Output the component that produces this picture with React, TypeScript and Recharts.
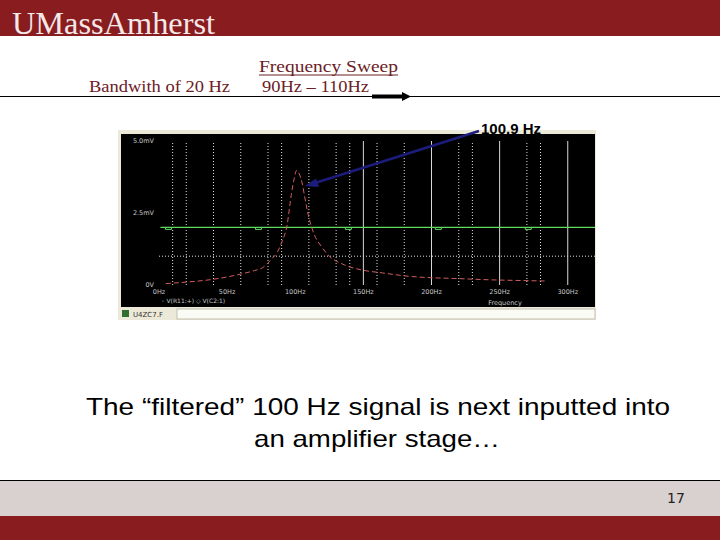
import React from 'react';
import { LineChart, Line, XAxis, YAxis, ReferenceLine } from 'recharts';

// frequency sweep (Hz, mV)
const sweepFreq = [5, 20, 40, 60, 70, 76, 83, 87, 90, 94, 97, 99, 101, 103, 105, 107, 109, 114, 119, 124, 136, 149, 164, 184, 201, 215, 243, 272, 283];
const sweepMv = [0.05, 0.1, 0.2, 0.38, 0.5, 0.6, 0.92, 1.15, 1.48, 2.08, 3.1, 3.65, 3.98, 3.85, 3.55, 3.05, 2.55, 1.75, 1.35, 1.05, 0.7, 0.52, 0.42, 0.3, 0.25, 0.23, 0.18, 0.15, 0.14];

// flat green reference trace and its marker positions
const refFreq = [1, 320];
const refMv = [2.0, 2.0];
const refMarkFreq = [7, 73, 139, 205, 271];

const xTicks = [0, 50, 100, 150, 200, 250, 300];
const xTickLabels = ['0Hz', '50Hz', '100Hz', '150Hz', '200Hz', '250Hz', '300Hz'];
const yTicks = [0, 2.5, 5];
const yTickLabels = ['0V', '2.5mV', '5.0mV'];

// grid lines visible in the screenshot
const dottedX = [10, 20, 40, 60, 80, 90, 110, 130, 140, 160, 180, 220, 230, 270, 280];
const solidX = [150, 200, 250, 300];
const dottedY = [1.0];

const sweepData = sweepFreq.map((f, i) => ({ f, v: sweepMv[i] }));
const refData = refFreq.map((f, i) => ({ f, v: refMv[i] }));
const refMarks = refMarkFreq.map((f) => ({ f, v: refMv[0] }));

const MAROON = '#891c1f';
const TEXT_MAROON = '#6b2025';
const GREEN = '#5edc5e';

const markDot = (props: any) => {
  const { cx, cy, index } = props;
  return (
    <path
      key={`m-${index}`}
      d={`M${cx - 3},${cy} L${cx - 3},${cy + 2} L${cx + 3},${cy + 2} L${cx + 3},${cy}`}
      stroke={GREEN}
      fill="none"
      strokeWidth={1}
    />
  );
};

const ScopePlot = () => (
  <LineChart width={474} height={173} margin={{ top: 7, right: 0, bottom: 0, left: 0 }}>
    <XAxis
      type="number"
      dataKey="f"
      domain={[0, 320]}
      ticks={xTicks}
      tickFormatter={(v) => xTickLabels[xTicks.indexOf(v)]}
      height={22}
      axisLine={false}
      tickLine={false}
      tickSize={0}
      tickMargin={4}
      allowDataOverflow
      tick={{ fontSize: 6.5, fill: '#c8c8c8', fontFamily: 'DejaVu Sans' }}
    />
    <YAxis
      type="number"
      domain={[0, 5]}
      ticks={yTicks}
      tickFormatter={(v) => yTickLabels[yTicks.indexOf(v)]}
      width={38}
      axisLine={false}
      tickLine={false}
      tickSize={0}
      tickMargin={5}
      allowDataOverflow
      tick={{ fontSize: 6.5, fill: '#c8c8c8', fontFamily: 'DejaVu Sans' }}
    />
    {dottedX.map((v) => (
      <ReferenceLine key={`dx-${v}`} x={v} stroke="#e0e0e0" strokeDasharray="1 2" />
    ))}
    {solidX.map((v) => (
      <ReferenceLine key={`sx-${v}`} x={v} stroke="#d8d8d8" />
    ))}
    {dottedY.map((v) => (
      <ReferenceLine key={`dy-${v}`} y={v} stroke="#e0e0e0" strokeDasharray="1 2" />
    ))}
    <Line
      data={refData}
      dataKey="v"
      stroke={GREEN}
      strokeWidth={1.2}
      dot={false}
      isAnimationActive={false}
    />
    <Line
      data={refMarks}
      dataKey="v"
      stroke="none"
      dot={markDot}
      isAnimationActive={false}
    />
    <Line
      data={sweepData}
      dataKey="v"
      type="monotone"
      stroke="#d45c5c"
      strokeWidth={1}
      strokeDasharray="5 3"
      dot={false}
      isAnimationActive={false}
    />
  </LineChart>
);

export default function App() {
  return (
    <div style={{ position: 'absolute', left: 0, top: 0, width: 720, height: 540, background: '#fff', overflow: 'hidden' }}>
      {/* scope window frame */}
      <div style={{ position: 'absolute', left: 118, top: 130, width: 478, height: 190, background: '#ece9d8' }} />
      <div style={{ position: 'absolute', left: 121, top: 134, width: 474, height: 173, background: '#000' }}>
        <ScopePlot />
      </div>

      <svg
        width={720}
        height={540}
        style={{ position: 'absolute', left: 0, top: 0, pointerEvents: 'none' }}
      >
        {/* header */}
        <rect x={0} y={0} width={720} height={36} fill={MAROON} />
        <text x={12} y={34} fontSize={32} fill="#f4e8e8" fontFamily="Liberation Serif" textLength={203} lengthAdjust="spacingAndGlyphs">
          UMassAmherst
        </text>

        <text x={259} y={72} fontSize={17} fill={TEXT_MAROON} fontFamily="Liberation Serif" textLength={139} lengthAdjust="spacingAndGlyphs">
          Frequency Sweep
        </text>
        <line x1={259} y1={75} x2={398} y2={75} stroke={TEXT_MAROON} strokeWidth={1} />
        <text x={89} y={92} fontSize={16} fill={TEXT_MAROON} fontFamily="Liberation Serif" textLength={141} lengthAdjust="spacingAndGlyphs">
          Bandwith of 20 Hz
        </text>
        <text x={262} y={92} fontSize={16} fill={TEXT_MAROON} fontFamily="Liberation Serif" textLength={107} lengthAdjust="spacingAndGlyphs">
          90Hz – 110Hz
        </text>
        <line x1={0} y1={96.5} x2={720} y2={96.5} stroke="#000" strokeWidth={1} />
        <line x1={372} y1={96.5} x2={404} y2={96.5} stroke="#000" strokeWidth={4} />
        <polygon points="402,92 411,96.5 402,101" fill="#000" />

        {/* scope legend / axis title */}
        <text x={161} y={303} fontSize={6} fill="#c8c8c8" fontFamily="DejaVu Sans">
          ◦ V(R11:+)   ◇ V(C2:1)
        </text>
        <text x={505} y={305} fontSize={6.5} fill="#c8c8c8" fontFamily="DejaVu Sans" textAnchor="middle">
          Frequency
        </text>

        {/* status bar */}
        <rect x={177} y={309} width={418} height={10} fill="#fbfbf6" stroke="#b8b4a4" strokeWidth={0.8} />
        <rect x={122} y={310} width={7} height={7} fill="#2f6f2f" />
        <text x={133} y={317} fontSize={7} fill="#333" fontFamily="DejaVu Sans">
          U4ZC7.F
        </text>

        {/* annotation */}
        <text x={481} y={134} fontSize={15} fontWeight="bold" fill="#000" fontFamily="Liberation Sans">
          100.9 Hz
        </text>
        <line x1={479} y1={131} x2={315} y2={183} stroke="#1c1c7c" strokeWidth={2.5} />
        <polygon points="305,186 316,178.5 319,187" fill="#1c1c7c" />

        {/* caption */}
        <text x={378} y={415} fontSize={24} fill="#000" fontFamily="Liberation Sans" textAnchor="middle" textLength={584} lengthAdjust="spacingAndGlyphs">
          The “filtered” 100 Hz signal is next inputted into
        </text>
        <text x={377} y={447} fontSize={24} fill="#000" fontFamily="Liberation Sans" textAnchor="middle" textLength={246} lengthAdjust="spacingAndGlyphs">
          an amplifier stage…
        </text>

        {/* footer */}
        <line x1={0} y1={480.5} x2={720} y2={480.5} stroke="#000" strokeWidth={1} />
        <rect x={0} y={481} width={720} height={35} fill="#d9d1cf" />
        <rect x={0} y={516} width={720} height={24} fill={MAROON} />
        <text x={676} y={503} fontSize={14} fill="#222" fontFamily="DejaVu Sans" textAnchor="middle">
          17
        </text>
      </svg>
    </div>
  );
}
